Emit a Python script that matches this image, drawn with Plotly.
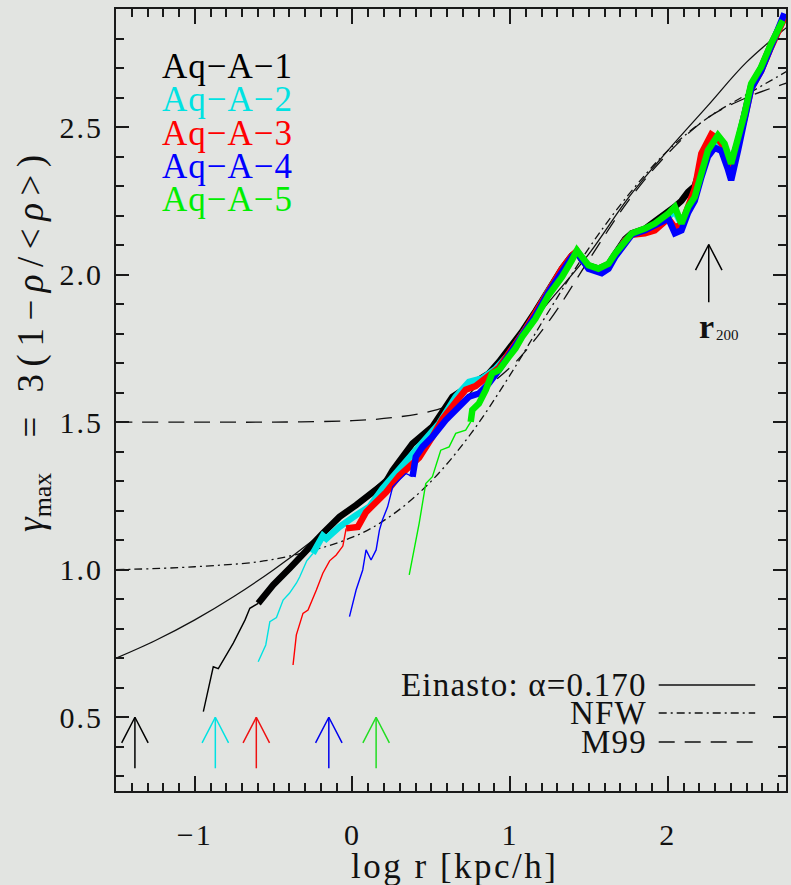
import plotly.graph_objects as go

BG = "#e2e4e1"
FONT = "Liberation Serif"

# ---- model curves: gamma_max vs log r ----
einasto_x = [-1.5, -1.25, -1.0, -0.75, -0.5, -0.25, 0.0, 0.25, 0.5, 0.75, 1.0, 1.25, 1.5, 1.75, 2.0, 2.25, 2.5, 2.76]
einasto_y = [0.70, 0.76, 0.83, 0.91, 1.00, 1.10, 1.21, 1.33, 1.46, 1.60, 1.75, 1.91, 2.07, 2.26, 2.42, 2.57, 2.72, 2.84]

nfw_x = [-1.5, -1.0, -0.5, 0.0, 0.25, 0.5, 0.75, 1.0, 1.25, 1.5, 1.75, 2.0, 2.25, 2.5, 2.76]
nfw_y = [1.00, 1.01, 1.035, 1.11, 1.185, 1.30, 1.46, 1.66, 1.88, 2.09, 2.27, 2.42, 2.53, 2.61, 2.69]

m99_x = [-1.5, -1.0, -0.5, 0.0, 0.25, 0.5, 0.75, 1.0, 1.25, 1.5, 1.75, 2.0, 2.25, 2.5, 2.76]
m99_y = [1.50, 1.50, 1.50, 1.505, 1.515, 1.537, 1.587, 1.685, 1.845, 2.05, 2.25, 2.41, 2.53, 2.60, 2.65]

# ---- simulations: thin (below convergence) and thick (converged) parts ----
sim_names = ["Aq\u2212A\u22121", "Aq\u2212A\u22122", "Aq\u2212A\u22123", "Aq\u2212A\u22124", "Aq\u2212A\u22125"]
sim_colors = ["#000000", "#00e2e2", "#ff0000", "#0000ff", "#00ee00"]

a1_thin_x = [-0.946, -0.883, -0.851, -0.819, -0.756, -0.682, -0.651, -0.598]
a1_thin_y = [0.519, 0.671, 0.665, 0.694, 0.751, 0.829, 0.869, 0.886]
a1_x = [-0.598, -0.503, -0.398, -0.292, -0.188, -0.124, -0.082, 0.023, 0.086, 0.128, 0.213, 0.255, 0.381, 0.507,
        0.634, 0.781, 0.865, 0.929, 1.0, 1.08, 1.16, 1.244, 1.329, 1.392, 1.424, 1.455, 1.497, 1.560, 1.624, 1.666,
        1.729, 1.771, 1.855, 1.918, 2.003, 2.045, 2.087, 2.129, 2.171, 2.213, 2.276, 2.318, 2.360, 2.402, 2.445,
        2.487, 2.529, 2.592, 2.655, 2.73]
a1_y = [0.886, 0.948, 1.005, 1.067, 1.123, 1.157, 1.179, 1.219, 1.247, 1.259, 1.298, 1.337, 1.428, 1.484,
        1.586, 1.637, 1.665, 1.704, 1.75, 1.81, 1.875, 1.95, 2.02, 2.065, 2.075, 2.05, 2.03, 2.02, 2.035, 2.07,
        2.12, 2.14, 2.155, 2.18, 2.21, 2.23, 2.25, 2.28, 2.30, 2.37, 2.45, 2.46, 2.43, 2.38, 2.45,
        2.54, 2.64, 2.70, 2.78, 2.86]

a2_thin_x = [-0.598, -0.55, -0.524, -0.482, -0.44, -0.40, -0.356, -0.335, -0.29, -0.251]
a2_thin_y = [0.688, 0.745, 0.824, 0.838, 0.897, 0.920, 0.954, 0.975, 1.030, 1.055]
a2_x = [-0.251, -0.229, -0.208, -0.188, -0.166, -0.145, -0.082, 0.023, 0.107, 0.191, 0.297, 0.402, 0.550, 0.655,
        0.739, 0.823, 0.908, 1.0, 1.08, 1.16, 1.244, 1.329, 1.392, 1.424, 1.455, 1.497, 1.560, 1.624, 1.666, 1.729,
        1.771, 1.855, 1.918, 2.003, 2.045, 2.087, 2.129, 2.171, 2.213, 2.276, 2.318, 2.360, 2.402, 2.445, 2.487,
        2.529, 2.592, 2.655, 2.73]
a2_y = [1.055, 1.075, 1.095, 1.115, 1.105, 1.117, 1.145, 1.185, 1.213, 1.275, 1.337, 1.405, 1.496, 1.586,
        1.636, 1.648, 1.680, 1.735, 1.80, 1.865, 1.945, 2.015, 2.06, 2.075, 2.05, 2.025, 2.015, 2.03, 2.065, 2.115,
        2.135, 2.15, 2.165, 2.195, 2.215, 2.17, 2.22, 2.27, 2.38, 2.46, 2.43, 2.41, 2.35, 2.44, 2.535,
        2.635, 2.695, 2.775, 2.865]

a3_thin_x = [-0.377, -0.356, -0.314, -0.282, -0.229, -0.188, -0.145, -0.103, -0.061, -0.04]
a3_thin_y = [0.677, 0.779, 0.852, 0.863, 0.931, 0.988, 1.030, 1.050, 1.080, 1.140]
a3_x = [-0.04, 0.034, 0.086, 0.15, 0.213, 0.297, 0.36, 0.423, 0.507, 0.571, 0.655, 0.718, 0.781, 0.845, 0.929,
        1.0, 1.08, 1.16, 1.244, 1.329, 1.392, 1.424, 1.455, 1.497, 1.581, 1.624, 1.666, 1.729, 1.771, 1.855, 1.918,
        2.003, 2.045, 2.087, 2.129, 2.171, 2.213, 2.276, 2.318, 2.360, 2.402, 2.445, 2.487, 2.529, 2.592, 2.655, 2.74]
a3_y = [1.140, 1.145, 1.195, 1.228, 1.262, 1.318, 1.352, 1.380, 1.450, 1.510, 1.568, 1.610, 1.622, 1.648, 1.684,
        1.74, 1.80, 1.87, 1.95, 2.02, 2.065, 2.08, 2.055, 2.025, 2.015, 2.025, 2.065, 2.115, 2.135, 2.14, 2.15,
        2.19, 2.16, 2.17, 2.23, 2.29, 2.41, 2.475, 2.46, 2.43, 2.36, 2.44, 2.53, 2.63, 2.69, 2.77, 2.87]

a4_thin_x = [-0.019, 0.023, 0.065, 0.086, 0.118, 0.150, 0.171, 0.19, 0.223, 0.255, 0.297, 0.339, 0.381]
a4_thin_y = [0.841, 0.931, 0.999, 1.067, 1.033, 1.067, 1.134, 1.168, 1.213, 1.281, 1.304, 1.326, 1.315]
a4_x = [0.381, 0.402, 0.444, 0.507, 0.592, 0.655, 0.739, 0.802, 0.865, 0.929, 1.0, 1.08, 1.16, 1.244, 1.329,
        1.392, 1.424, 1.455, 1.497, 1.581, 1.624, 1.666, 1.729, 1.771, 1.855, 1.918, 2.003, 2.045, 2.087, 2.129,
        2.171, 2.213, 2.255, 2.297, 2.340, 2.380, 2.402, 2.445, 2.487, 2.529, 2.592, 2.655, 2.740]
a4_y = [1.315, 1.383, 1.416, 1.450, 1.507, 1.541, 1.586, 1.597, 1.631, 1.676, 1.73, 1.79, 1.86, 1.94, 2.01,
        2.06, 2.075, 2.05, 2.02, 2.005, 2.02, 2.06, 2.11, 2.135, 2.15, 2.165, 2.19, 2.14, 2.15, 2.21,
        2.25, 2.33, 2.40, 2.43, 2.42, 2.36, 2.32, 2.42, 2.53, 2.63, 2.69, 2.77, 2.885]

a5_thin_x = [0.36, 0.423, 0.465, 0.507, 0.560, 0.613, 0.655, 0.718, 0.750]
a5_thin_y = [0.982, 1.157, 1.292, 1.315, 1.405, 1.416, 1.462, 1.473, 1.501]
a5_x = [0.750, 0.760, 0.802, 0.845, 0.886, 0.929, 0.992, 1.034, 1.076, 1.160, 1.244, 1.329, 1.392, 1.424, 1.455,
        1.497, 1.560, 1.624, 1.666, 1.729, 1.771, 1.855, 1.918, 2.003, 2.045, 2.087, 2.129, 2.171, 2.213, 2.255,
        2.318, 2.360, 2.402, 2.445, 2.487, 2.529, 2.592, 2.655, 2.729]
a5_y = [1.501, 1.541, 1.563, 1.608, 1.665, 1.676, 1.721, 1.750, 1.789, 1.850, 1.930, 1.992, 2.049, 2.082, 2.060,
        2.032, 2.020, 2.037, 2.071, 2.116, 2.139, 2.156, 2.173, 2.207, 2.229, 2.173, 2.229, 2.263, 2.342, 2.421,
        2.472, 2.444, 2.376, 2.455, 2.545, 2.647, 2.703, 2.782, 2.861]

thin_parts = [(a1_thin_x, a1_thin_y), (a2_thin_x, a2_thin_y), (a3_thin_x, a3_thin_y),
              (a4_thin_x, a4_thin_y), (a5_thin_x, a5_thin_y)]
thick_parts = [(a1_x, a1_y), (a2_x, a2_y), (a3_x, a3_y), (a4_x, a4_y), (a5_x, a5_y)]

# convergence radii (log r) marked by arrows, and the virial radius
conv_logr = [-1.38, -0.87, -0.61, -0.15, 0.15]
r200_logr = 2.26

# axis ticks
x_ticks = [-1, 0, 1, 2]
x_ticktext = ["\u22121", "0", "1", "2"]
y_ticks = [0.5, 1.0, 1.5, 2.0, 2.5]
y_ticktext = ["0.5", "1.0", "1.5", "2.0", "2.5"]

fig = go.Figure()


def line(x, y, color, width, dash="solid", shape="linear"):
    fig.add_trace(go.Scatter(x=x, y=y, mode="lines", hoverinfo="skip", showlegend=False,
                             line=dict(color=color, width=width, dash=dash, shape=shape)))


def spaced(txt, px):
    return f"<span style='letter-spacing:{px}px'>{txt}</span>"


NFW_DASH = "8px,4px,2px,4px"
M99_DASH = "16px,10px"

line(m99_x, m99_y, "#111", 1.3, M99_DASH, "spline")
line(nfw_x, nfw_y, "#111", 1.3, NFW_DASH, "spline")
line(einasto_x, einasto_y, "#111", 1.3, "solid", "spline")

for (tx, ty), (kx, ky), c in zip(thin_parts, thick_parts, sim_colors):
    line(tx, ty, c, 1.4)
    line(kx, ky, c, 6.5)


def arrow(x0, y_tail, y_tip, color):
    dx, dy = 0.084, 0.087
    line([x0, x0, None, x0 - dx, x0, x0 + dx],
         [y_tail, y_tip, None, y_tip - dy, y_tip, y_tip - dy], color, 1.5)


arrow_colors = ["#000000", "#00e2e2", "#ee1111", "#0000ee", "#22dd22"]
for xv, c in zip(conv_logr, arrow_colors):
    arrow(xv, 0.327, 0.5, c)
arrow(r200_logr, 1.906, 2.102, "#000000")

annotations = []
# simulation labels
label_y = [0.926, 0.884, 0.841, 0.799, 0.757]
for name, c, yy in zip(sim_names, sim_colors, label_y):
    annotations.append(dict(text=spaced(name, 1), x=0.065, y=yy, xref="paper", yref="paper",
                            xanchor="left", yanchor="middle", showarrow=False,
                            font=dict(family=FONT, size=35, color=c)))

# model key
key = [("Einasto: \u03b1=0.170", "solid", 0.1355),
       ("NFW", NFW_DASH, 0.0997),
       ("M99", M99_DASH, 0.0627)]
shapes = []
for txt, dash, yy in key:
    annotations.append(dict(text=spaced(txt, 1.2), x=0.795, y=yy, xref="paper", yref="paper",
                            xanchor="right", yanchor="middle", showarrow=False,
                            font=dict(family=FONT, size=33, color="#111")))
    shapes.append(dict(type="line", xref="paper", yref="paper", x0=0.810, x1=0.954,
                       y0=yy, y1=yy, line=dict(color="#111", width=1.5, dash=dash)))

# r200 label
annotations.append(dict(text="<b>r</b>", x=r200_logr, y=1.906, xref="x", yref="y",
                        xanchor="center", yanchor="top", xshift=-2, yshift=-4, showarrow=False,
                        font=dict(family=FONT, size=34, color="#111")))
annotations.append(dict(text="200", x=r200_logr, y=1.906, xref="x", yref="y",
                        xanchor="left", yanchor="top", xshift=5, yshift=-23, showarrow=False,
                        font=dict(family=FONT, size=15, color="#111")))

# axis titles
annotations.append(dict(text=spaced("log r [kpc/h]", 2.5), x=0.505, y=-0.096, xref="paper", yref="paper",
                        xanchor="center", yanchor="middle", showarrow=False,
                        font=dict(family=FONT, size=35, color="#111")))
y_title = ("<i>\u03b3</i><sub>max</sub>  "
           + spaced(" = 3(1\u2212<i>\u03c1</i>/&lt;<i>\u03c1</i>&gt;)", 7.5))
annotations.append(dict(text=y_title, x=-0.124, y=0.578,
                        xref="paper", yref="paper", xanchor="center", yanchor="middle",
                        textangle=-90, showarrow=False,
                        font=dict(family=FONT, size=37, color="#111")))

axis_common = dict(showgrid=False, zeroline=False, showline=True, linewidth=2, linecolor="#1a1a1a",
                   mirror="ticks", ticks="inside", tickwidth=1.5, tickcolor="#1a1a1a",
                   tickfont=dict(family=FONT, size=30, color="#111"))

fig.update_layout(
    width=791, height=885,
    margin=dict(l=116, r=3, t=9, b=94),
    paper_bgcolor=BG, plot_bgcolor=BG,
    showlegend=False,
    xaxis=dict(range=[-1.5, 2.75], tickvals=x_ticks, ticktext=[spaced(t, 2) for t in x_ticktext],
               ticklen=15, ticklabelstandoff=16,
               minor=dict(dtick=0.1, tick0=0, ticklen=8, tickwidth=1.5, ticks="inside", tickcolor="#1a1a1a"),
               **axis_common),
    yaxis=dict(range=[0.25, 2.9], tickvals=y_ticks, ticktext=[spaced(t, 2) for t in y_ticktext],
               ticklen=13, ticklabelstandoff=5,
               minor=dict(dtick=0.1, tick0=0, ticklen=8, tickwidth=1.5, ticks="inside", tickcolor="#1a1a1a"),
               **axis_common),
    annotations=annotations,
    shapes=shapes,
)

fig.write_html("out.html")
